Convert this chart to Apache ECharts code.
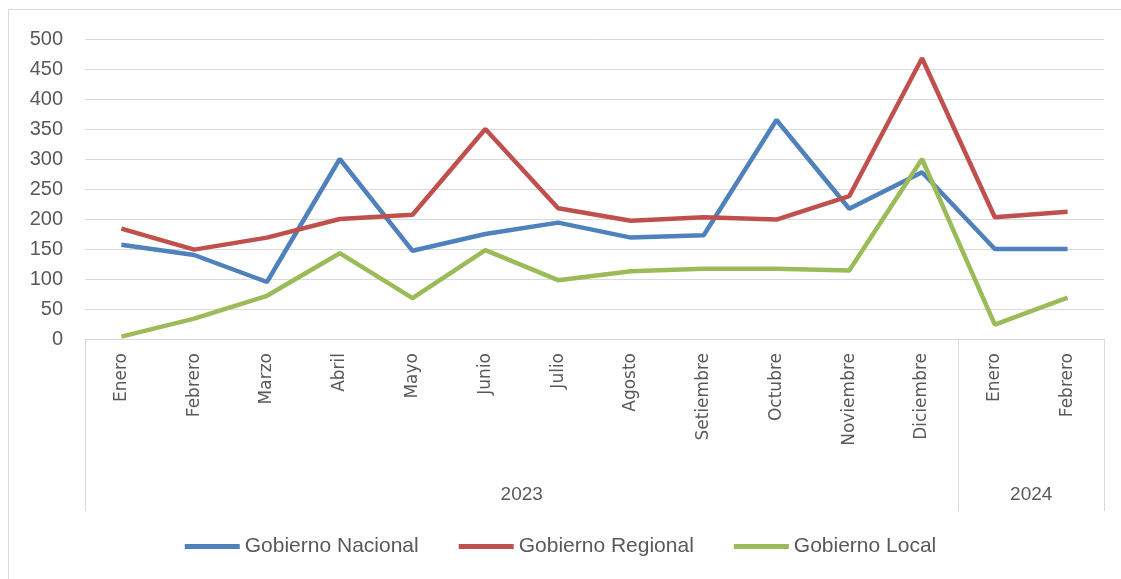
<!DOCTYPE html>
<html>
<head>
<meta charset="utf-8">
<script src="https://cdn.jsdelivr.net/npm/echarts@6/dist/echarts.min.js"></script>
<style>
  html, body { margin: 0; padding: 0; background: #fff; }
  #frame { position: absolute; left: 8px; top: 9px; width: 1200px; height: 700px;
           border-left: 1px solid #d9d9d9; border-top: 1px solid #d9d9d9; }
  #chart { position: absolute; left: 0; top: 0; width: 1121px; height: 579px; }
</style>
</head>
<body>
<div id="frame"></div>
<div id="chart"></div>
<script>
// meses (categorias)
const meses = ["Enero", "Febrero", "Marzo", "Abril", "Mayo", "Junio", "Julio",
  "Agosto", "Setiembre", "Octubre", "Noviembre", "Diciembre", "Enero", "Febrero"];
// años y cuantos meses cubre cada uno
const anios = ["2023", "2024"];
const mesesPorAnio = [12, 2];

const nacional = [157, 140, 95, 300, 147, 175, 194, 169, 173, 365, 217, 278, 150, 150];
const regional = [184, 149, 169, 200, 207, 350, 218, 197, 203, 199, 238, 468, 203, 212];
const local = [4, 34, 72, 143, 68, 148, 98, 113, 117, 117, 114, 300, 24, 69];

const yTicks = { min: 0, max: 500, interval: 50 };

// limites y centros de cada grupo de años
let bordes = [0];
let centros = [];
mesesPorAnio.forEach(n => {
  let ini = bordes[bordes.length - 1];
  centros.push(ini + n / 2);
  bordes.push(ini + n);
});

let myChart = echarts.init(document.getElementById("chart"));
const gris = "#595959";
const fuente = "Liberation Sans";

let option = {
  animation: false,
  textStyle: { fontFamily: fuente },
  grid: { left: 85, right: 17, top: 39, bottom: 240, containLabel: false },
  legend: {
    bottom: 17,
    left: "center",
    icon: "rect",
    itemWidth: 55,
    itemHeight: 5,
    itemGap: 40,
    textStyle: { fontSize: 21, color: gris, fontFamily: fuente },
    data: ["Gobierno Nacional", "Gobierno Regional", "Gobierno Local"]
  },
  xAxis: [
    {
      type: "category",
      data: meses,
      boundaryGap: true,
      axisLine: { lineStyle: { color: "#d9d9d9", width: 1 } },
      axisTick: { show: false },
      axisLabel: { rotate: 90, color: gris, fontSize: 17, margin: 14, interval: 0,
                   fontFamily: "DejaVu Sans" }
    },
    {
      // segundo nivel: años
      type: "value",
      position: "bottom",
      min: 0,
      max: meses.length,
      splitLine: { show: false },
      axisLine: { show: false },
      axisTick: {
        show: true,
        customValues: bordes,
        length: 172,
        lineStyle: { color: "#d9d9d9", width: 1 }
      },
      axisLabel: {
        customValues: centros,
        formatter: v => anios[centros.indexOf(v)],
        color: gris,
        fontSize: 19,
        margin: 146
      }
    }
  ],
  yAxis: {
    type: "value",
    min: yTicks.min,
    max: yTicks.max,
    interval: yTicks.interval,
    axisLine: { show: false },
    axisTick: { show: false },
    splitLine: { lineStyle: { color: "#d9d9d9", width: 1 } },
    axisLabel: { color: gris, fontSize: 20, margin: 22 }
  },
  series: [
    {
      name: "Gobierno Nacional",
      type: "line",
      data: nacional,
      xAxisIndex: 0,
      symbol: "none",
      lineStyle: { color: "#4F81BD", width: 4.5 },
      itemStyle: { color: "#4F81BD" }
    },
    {
      name: "Gobierno Regional",
      type: "line",
      data: regional,
      xAxisIndex: 0,
      symbol: "none",
      lineStyle: { color: "#C0504D", width: 4.5 },
      itemStyle: { color: "#C0504D" }
    },
    {
      name: "Gobierno Local",
      type: "line",
      data: local,
      xAxisIndex: 0,
      symbol: "none",
      lineStyle: { color: "#9BBB59", width: 4.5 },
      itemStyle: { color: "#9BBB59" }
    }
  ]
};
myChart.setOption(option);
</script>
</body>
</html>
